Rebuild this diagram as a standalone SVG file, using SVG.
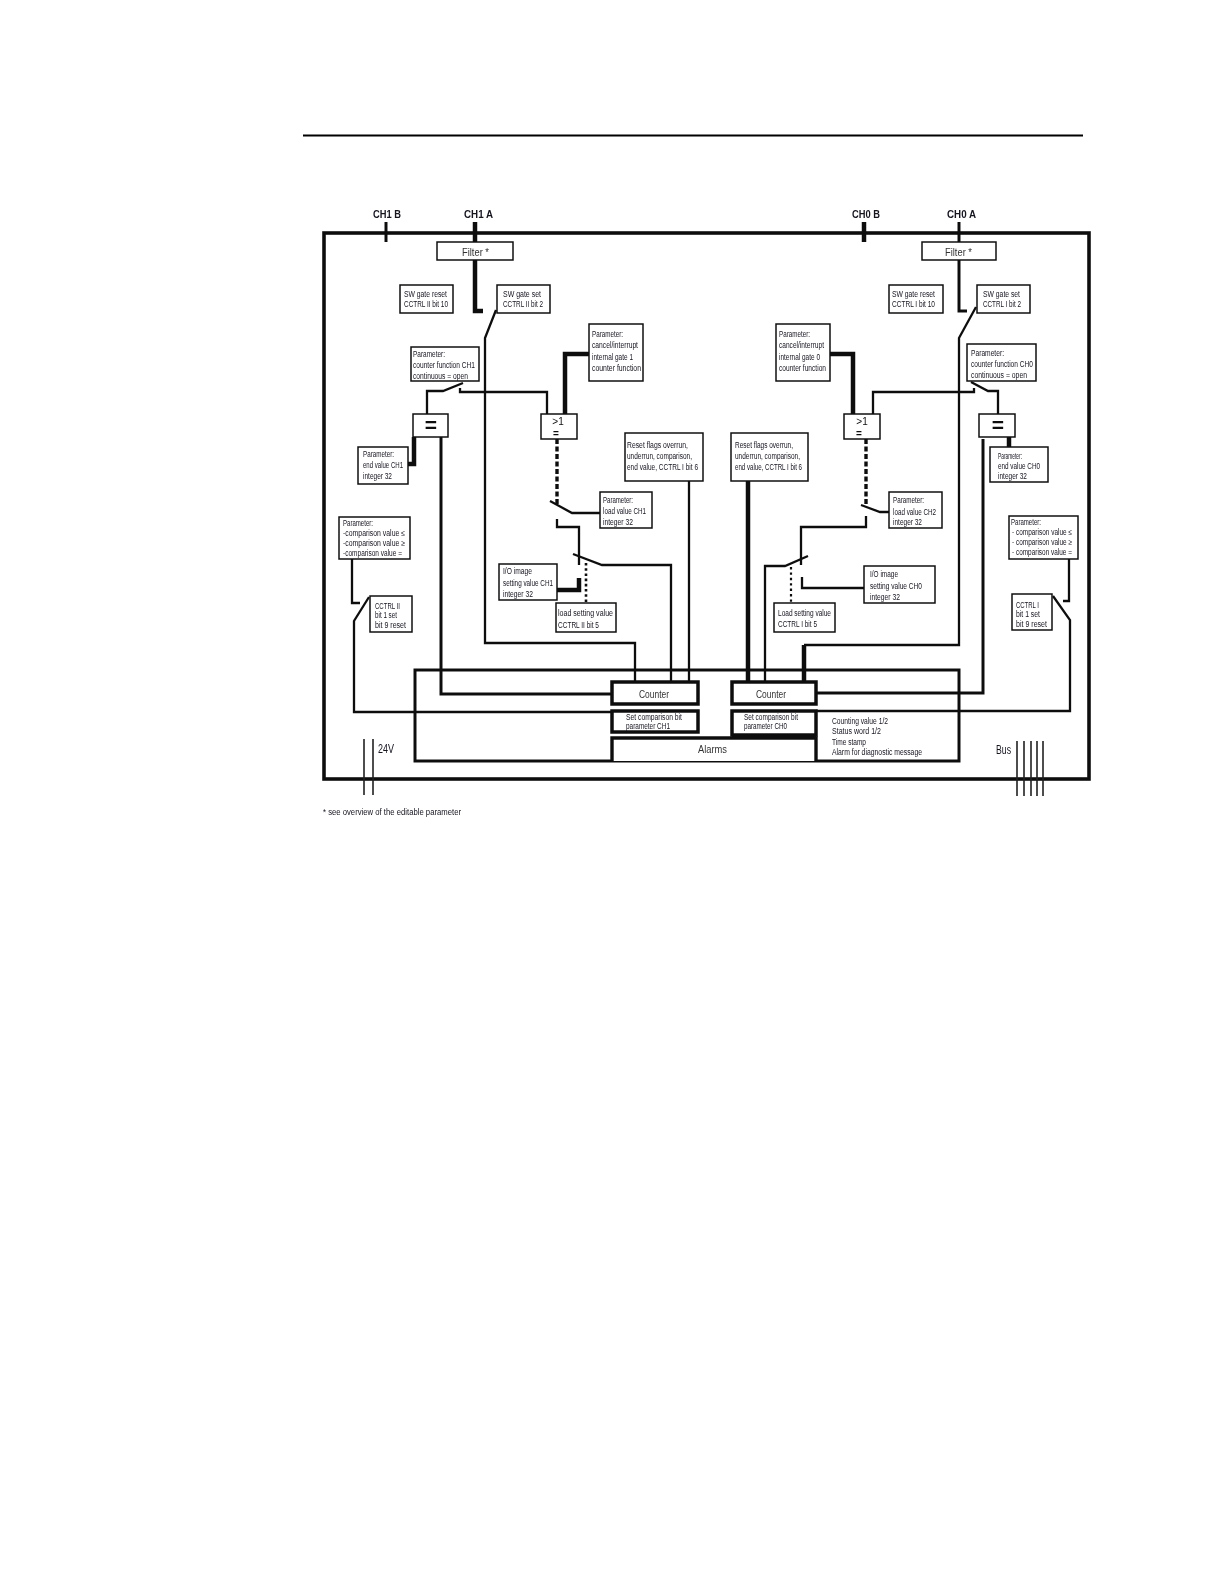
<svg xmlns="http://www.w3.org/2000/svg" width="1224" height="1584" viewBox="0 0 1224 1584">
<defs><filter id="soft" x="0" y="0" width="1" height="1" filterUnits="objectBoundingBox"><feGaussianBlur stdDeviation="0.35"/></filter></defs>
<style>
text{font-family:"Liberation Sans",Arial,sans-serif;fill:#14141f;font-size:8.5px}
.box{fill:#fff;stroke:#111;stroke-width:1.5}
.big{fill:#fff;stroke:#111;stroke-width:3.5}
.l{fill:none;stroke:#111;stroke-width:2.3}
.m{fill:none;stroke:#111;stroke-width:3}
.t{fill:none;stroke:#111;stroke-width:4.5}
.hair{fill:none;stroke:#222;stroke-width:1.6}
.lab{font-size:11px;font-weight:bold}
.ctr{font-size:11.5px;fill:#333}
.eq{font-size:21px;font-weight:bold;text-anchor:middle;fill:#111}
.ge{font-size:10px;text-anchor:middle;fill:#111}
</style>
<rect width="1224" height="1584" fill="#fff"/>
<path d="M303 135.500H1083" fill="none" stroke="#000" stroke-width="2"/>
<g filter="url(#soft)">
<rect x="300" y="200" width="800" height="630" fill="#fff"/>
<g id="frame">
<rect x="324" y="233" width="765" height="546" fill="none" stroke="#111" stroke-width="3.6"/>
<rect x="415" y="670" width="544" height="91" fill="none" stroke="#111" stroke-width="3"/>
</g>
<g id="connectors">
<path class="m" d="M386 222V242"/><path class="t" d="M475 222V242"/><path class="t" d="M864 222V242"/><path class="m" d="M959 222V242"/>
<path class="t" d="M475 260V311H483"/>
<path class="l" d="M496 310L485 338V643H635V682"/>
<path class="l" d="M427 414V391H443L463 383"/>
<path class="l" d="M460 388V392H547V414"/>
<path class="t" d="M589 354H565V414"/>
<path class="t" d="M414 437V464H408"/>
<path class="m" d="M441 437V694H612"/>
<path d="M557 439V505" fill="none" stroke="#111" stroke-width="3.4" stroke-dasharray="5 2.500"/>
<path class="l" d="M550 501L572 513H600"/>
<path class="l" d="M557 519V527H579V565"/>
<path class="l" d="M573 554L602 565H671V682"/>
<path class="t" d="M557 590H579V578"/>
<path d="M586 563V603" fill="none" stroke="#111" stroke-width="2.6" stroke-dasharray="2.600 2.600"/>
<path class="l" d="M689 481V682"/>
<path class="l" d="M352 559V603H360"/>
<path class="l" d="M369 597L354 621V712H612"/>
<path class="t" d="M748 481V682"/>
<path class="l" d="M765 682V566H785L808 556"/>
<path class="l" d="M802 577V588H864"/>
<path class="t" d="M804 682V645"/><path class="l" d="M804 645H959V338L976 307"/>
<path class="m" d="M816 693H983V439"/>
<path class="l" d="M816 711H1070V620L1053 596"/>
<path class="l" d="M1069 559V601H1063"/>
<path class="m" d="M959 260V311H967"/>
<path class="t" d="M830 354H853V414"/>
<path class="l" d="M873 414V392H974V388"/>
<path class="l" d="M971 382L988 391H998V414"/>
<path class="t" d="M1009 437V447"/>
<path d="M866 439V505" fill="none" stroke="#111" stroke-width="3.4" stroke-dasharray="5 2.500"/>
<path class="l" d="M861 505L880 512H889"/>
<path class="l" d="M866 516V527H801V565"/>
<path d="M791 567V603" fill="none" stroke="#111" stroke-width="2.2" stroke-dasharray="2.400 3"/>
<path class="hair" d="M364 739V795M373 739V795M1017 741V796M1024 741V796M1031 741V796M1037 741V796M1043 741V796"/>
</g>
<g id="labels">
<text class="lab" x="373" y="218" textLength="28" lengthAdjust="spacingAndGlyphs">CH1 B</text>
<text class="lab" x="464" y="218" textLength="29" lengthAdjust="spacingAndGlyphs">CH1 A</text>
<text class="lab" x="852" y="218" textLength="28" lengthAdjust="spacingAndGlyphs">CH0 B</text>
<text class="lab" x="947" y="218" textLength="29" lengthAdjust="spacingAndGlyphs">CH0 A</text>
<text x="378" y="753" style="font-size:12px" textLength="16" lengthAdjust="spacingAndGlyphs">24V</text>
<text x="996" y="754" style="font-size:12px" textLength="15" lengthAdjust="spacingAndGlyphs">Bus</text>
<text x="323" y="815" style="font-size:9px" textLength="138" lengthAdjust="spacingAndGlyphs">* see overview of the editable parameter</text>
<text x="832" y="724" textLength="56" lengthAdjust="spacingAndGlyphs">Counting value 1/2</text>
<text x="832" y="734" textLength="49" lengthAdjust="spacingAndGlyphs">Status word 1/2</text>
<text x="832" y="745" textLength="34" lengthAdjust="spacingAndGlyphs">Time stamp</text>
<text x="832" y="755" textLength="90" lengthAdjust="spacingAndGlyphs">Alarm for diagnostic message</text>
</g>
<g id="filter1"><rect class="box" x="437" y="242" width="76" height="18"/><text class="ctr" x="462" y="256" textLength="27" lengthAdjust="spacingAndGlyphs">Filter *</text></g>
<g id="filter0"><rect class="box" x="922" y="242" width="74" height="18"/><text class="ctr" x="945" y="256" textLength="27" lengthAdjust="spacingAndGlyphs">Filter *</text></g>
<g id="swreset1"><rect class="box" x="400" y="285" width="53" height="28"/><text x="404" y="297" textLength="43" lengthAdjust="spacingAndGlyphs">SW gate reset</text><text x="404" y="307" textLength="44" lengthAdjust="spacingAndGlyphs">CCTRL II bit 10</text></g>
<g id="swset1"><rect class="box" x="497" y="285" width="53" height="28"/><text x="503" y="297" textLength="38" lengthAdjust="spacingAndGlyphs">SW gate set</text><text x="503" y="307" textLength="40" lengthAdjust="spacingAndGlyphs">CCTRL II bit 2</text></g>
<g id="swreset0"><rect class="box" x="889" y="285" width="54" height="28"/><text x="892" y="297" textLength="43" lengthAdjust="spacingAndGlyphs">SW gate reset</text><text x="892" y="307" textLength="43" lengthAdjust="spacingAndGlyphs">CCTRL I bit 10</text></g>
<g id="swset0"><rect class="box" x="977" y="285" width="53" height="28"/><text x="983" y="297" textLength="37" lengthAdjust="spacingAndGlyphs">SW gate set</text><text x="983" y="307" textLength="38" lengthAdjust="spacingAndGlyphs">CCTRL I bit 2</text></g>
<g id="func1"><rect class="box" x="411" y="347" width="68" height="34"/><text x="413" y="357" textLength="32" lengthAdjust="spacingAndGlyphs">Parameter:</text><text x="413" y="368" textLength="62" lengthAdjust="spacingAndGlyphs">counter function CH1</text><text x="413" y="379" textLength="55" lengthAdjust="spacingAndGlyphs">continuous = open</text></g>
<g id="func0"><rect class="box" x="967" y="344" width="69" height="37"/><text x="971" y="356" textLength="33" lengthAdjust="spacingAndGlyphs">Parameter:</text><text x="971" y="367" textLength="62" lengthAdjust="spacingAndGlyphs">counter function CH0</text><text x="971" y="378" textLength="56" lengthAdjust="spacingAndGlyphs">continuous = open</text></g>
<g id="cancel1"><rect class="box" x="589" y="324" width="54" height="57"/><text x="592" y="337" textLength="31" lengthAdjust="spacingAndGlyphs">Parameter:</text><text x="592" y="348" textLength="46" lengthAdjust="spacingAndGlyphs">cancel/interrupt</text><text x="592" y="360" textLength="41" lengthAdjust="spacingAndGlyphs">internal gate 1</text><text x="592" y="371" textLength="49" lengthAdjust="spacingAndGlyphs">counter function</text></g>
<g id="cancel0"><rect class="box" x="776" y="324" width="54" height="57"/><text x="779" y="337" textLength="31" lengthAdjust="spacingAndGlyphs">Parameter:</text><text x="779" y="348" textLength="45" lengthAdjust="spacingAndGlyphs">cancel/interrupt</text><text x="779" y="360" textLength="41" lengthAdjust="spacingAndGlyphs">internal gate 0</text><text x="779" y="371" textLength="47" lengthAdjust="spacingAndGlyphs">counter function</text></g>
<g id="eq1"><rect class="box" x="413" y="414" width="35" height="23"/><text class="eq" x="431" y="432">=</text></g>
<g id="eq0"><rect class="box" x="979" y="414" width="36" height="23"/><text class="eq" x="998" y="432">=</text></g>
<g id="ge1"><rect class="box" x="541" y="414" width="36" height="25"/><text class="ge" x="558" y="425">&gt;1</text><text class="ge" x="556" y="437" style="font-weight:bold">=</text></g>
<g id="ge0"><rect class="box" x="844" y="414" width="36" height="25"/><text class="ge" x="862" y="425">&gt;1</text><text class="ge" x="859" y="437" style="font-weight:bold">=</text></g>
<g id="end1"><rect class="box" x="358" y="447" width="50" height="37"/><text x="363" y="457" textLength="31" lengthAdjust="spacingAndGlyphs">Parameter:</text><text x="363" y="468" textLength="40" lengthAdjust="spacingAndGlyphs">end value CH1</text><text x="363" y="479" textLength="29" lengthAdjust="spacingAndGlyphs">integer 32</text></g>
<g id="end0"><rect class="box" x="990" y="447" width="58" height="35"/><text x="998" y="459" textLength="24" lengthAdjust="spacingAndGlyphs">Parameter:</text><text x="998" y="469" textLength="42" lengthAdjust="spacingAndGlyphs">end value CH0</text><text x="998" y="479" textLength="29" lengthAdjust="spacingAndGlyphs">integer 32</text></g>
<g id="reset1"><rect class="box" x="625" y="433" width="78" height="48"/><text x="627" y="448" textLength="61" lengthAdjust="spacingAndGlyphs">Reset flags overrun,</text><text x="627" y="459" textLength="65" lengthAdjust="spacingAndGlyphs">underrun, comparison,</text><text x="627" y="470" textLength="71" lengthAdjust="spacingAndGlyphs">end value, CCTRL I bit 6</text></g>
<g id="reset0"><rect class="box" x="731" y="433" width="77" height="48"/><text x="735" y="448" textLength="58" lengthAdjust="spacingAndGlyphs">Reset flags overrun,</text><text x="735" y="459" textLength="65" lengthAdjust="spacingAndGlyphs">underrun, comparison,</text><text x="735" y="470" textLength="67" lengthAdjust="spacingAndGlyphs">end value, CCTRL I bit 6</text></g>
<g id="load1"><rect class="box" x="600" y="492" width="52" height="36"/><text x="603" y="503" textLength="30" lengthAdjust="spacingAndGlyphs">Parameter:</text><text x="603" y="514" textLength="43" lengthAdjust="spacingAndGlyphs">load value CH1</text><text x="603" y="525" textLength="30" lengthAdjust="spacingAndGlyphs">integer 32</text></g>
<g id="load0"><rect class="box" x="889" y="492" width="53" height="36"/><text x="893" y="503" textLength="31" lengthAdjust="spacingAndGlyphs">Parameter:</text><text x="893" y="515" textLength="43" lengthAdjust="spacingAndGlyphs">load value CH2</text><text x="893" y="525" textLength="29" lengthAdjust="spacingAndGlyphs">integer 32</text></g>
<g id="cmp1"><rect class="box" x="339" y="517" width="71" height="42"/><text x="343" y="526" textLength="30" lengthAdjust="spacingAndGlyphs">Parameter:</text><text x="343" y="536" textLength="62" lengthAdjust="spacingAndGlyphs">-comparison value ≤</text><text x="343" y="546" textLength="62" lengthAdjust="spacingAndGlyphs">-comparison value ≥</text><text x="343" y="556" textLength="59" lengthAdjust="spacingAndGlyphs">-comparison value =</text></g>
<g id="cmp0"><rect class="box" x="1009" y="516" width="69" height="43"/><text x="1011" y="525" textLength="30" lengthAdjust="spacingAndGlyphs">Parameter:</text><text x="1012" y="535" textLength="60" lengthAdjust="spacingAndGlyphs">- comparison value ≤</text><text x="1012" y="545" textLength="60" lengthAdjust="spacingAndGlyphs">- comparison value ≥</text><text x="1012" y="555" textLength="60" lengthAdjust="spacingAndGlyphs">- comparison value =</text></g>
<g id="io1"><rect class="box" x="499" y="564" width="58" height="36"/><text x="503" y="574" textLength="29" lengthAdjust="spacingAndGlyphs">I/O image</text><text x="503" y="586" textLength="50" lengthAdjust="spacingAndGlyphs">setting value CH1</text><text x="503" y="597" textLength="30" lengthAdjust="spacingAndGlyphs">integer 32</text></g>
<g id="io0"><rect class="box" x="864" y="566" width="71" height="37"/><text x="870" y="577" textLength="28" lengthAdjust="spacingAndGlyphs">I/O image</text><text x="870" y="589" textLength="52" lengthAdjust="spacingAndGlyphs">setting value CH0</text><text x="870" y="600" textLength="30" lengthAdjust="spacingAndGlyphs">integer 32</text></g>
<g id="setval1"><rect class="box" x="556" y="603" width="60" height="29"/><text x="558" y="616" textLength="55" lengthAdjust="spacingAndGlyphs">load setting value</text><text x="558" y="628" textLength="41" lengthAdjust="spacingAndGlyphs">CCTRL II bit 5</text></g>
<g id="setval0"><rect class="box" x="774" y="603" width="61" height="29"/><text x="778" y="616" textLength="53" lengthAdjust="spacingAndGlyphs">Load setting value</text><text x="778" y="627" textLength="39" lengthAdjust="spacingAndGlyphs">CCTRL I bit 5</text></g>
<g id="ctrl2"><rect class="box" x="370" y="596" width="42" height="36"/><text x="375" y="609" textLength="25" lengthAdjust="spacingAndGlyphs">CCTRL II</text><text x="375" y="618" textLength="22" lengthAdjust="spacingAndGlyphs">bit 1 set</text><text x="375" y="628" textLength="31" lengthAdjust="spacingAndGlyphs">bit 9 reset</text></g>
<g id="ctrl1"><rect class="box" x="1012" y="594" width="40" height="36"/><text x="1016" y="608" textLength="23" lengthAdjust="spacingAndGlyphs">CCTRL I</text><text x="1016" y="617" textLength="24" lengthAdjust="spacingAndGlyphs">bit 1 set</text><text x="1016" y="627" textLength="31" lengthAdjust="spacingAndGlyphs">bit 9 reset</text></g>
<g id="counter1"><rect class="big" x="612" y="682" width="86" height="22"/><text class="ctr" x="639" y="698" textLength="30" lengthAdjust="spacingAndGlyphs">Counter</text></g>
<g id="counter0"><rect class="big" x="732" y="682" width="84" height="22"/><text class="ctr" x="756" y="698" textLength="30" lengthAdjust="spacingAndGlyphs">Counter</text></g>
<g id="setcmp1"><rect class="big" x="612" y="711" width="86" height="21"/><text x="626" y="720" textLength="56" lengthAdjust="spacingAndGlyphs">Set comparison bit</text><text x="626" y="729" textLength="44" lengthAdjust="spacingAndGlyphs">parameter CH1</text></g>
<g id="setcmp0"><rect class="big" x="732" y="711" width="84" height="24"/><text x="744" y="720" textLength="54" lengthAdjust="spacingAndGlyphs">Set comparison bit</text><text x="744" y="729" textLength="43" lengthAdjust="spacingAndGlyphs">parameter CH0</text></g>
<g id="alarms"><path d="M612 761V738H816V761" fill="#fff" stroke="#111" stroke-width="3.4"/><path d="M732 736.500H816" stroke="#111" stroke-width="4"/><text class="ctr" x="698" y="753" textLength="29" lengthAdjust="spacingAndGlyphs">Alarms</text></g>
</g>
</svg>
